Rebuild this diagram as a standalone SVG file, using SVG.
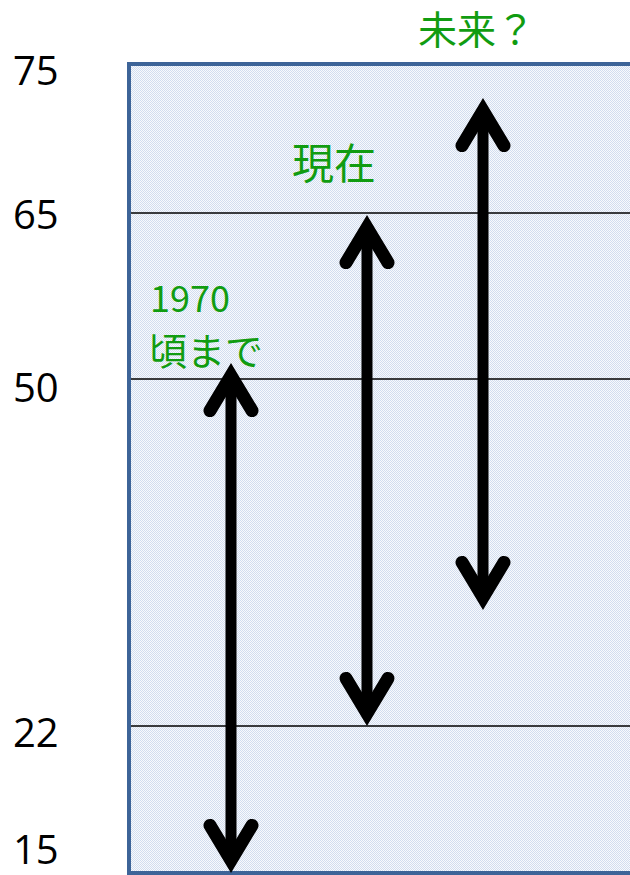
<svg xmlns="http://www.w3.org/2000/svg" width="630" height="875" viewBox="0 0 630 875">
  <style>
    .axis { font-family: "Open Sans", "Liberation Sans", sans-serif; font-size: 40px; fill: #000; }
    .lbl { font-family: "Noto Sans CJK JP", "Noto Sans", sans-serif; fill: #119c11; }
    .grid { stroke: #000; stroke-width: 1.5; }
    .arrow { stroke: #000; stroke-width: 11; fill: none; marker-start: url(#head); marker-end: url(#head); }
  </style>
  <defs>
    <pattern id="dots" width="2" height="2" patternUnits="userSpaceOnUse">
      <rect width="2" height="2" fill="#f8fafd"/>
      <rect width="1" height="1" fill="#d2ddef"/>
      <rect x="1" y="1" width="1" height="1" fill="#d2ddef"/>
    </pattern>
    <marker id="head" markerUnits="userSpaceOnUse" markerWidth="80" markerHeight="80" viewBox="-50 -40 80 80" refX="0" refY="0" orient="auto-start-reverse" overflow="visible">
      <path d="M -35.6 -21 L -0.6 0 L -35.6 21" fill="none" stroke="#000" stroke-width="13" stroke-linecap="round" stroke-linejoin="miter" stroke-miterlimit="10"/>
    </marker>
  </defs>

  <g id="chart-frame">
    <rect x="129" y="64" width="520" height="809" fill="url(#dots)" stroke="#3d6498" stroke-width="4"/>
  </g>

  <g id="gridlines">
    <line class="grid" x1="131" y1="213" x2="630" y2="213"/>
    <line class="grid" x1="131" y1="379" x2="630" y2="379"/>
    <line class="grid" x1="131" y1="726" x2="630" y2="726"/>
  </g>

  <g id="axis-labels">
    <text class="axis" x="13" y="85">75</text>
    <text class="axis" x="13" y="229">65</text>
    <text class="axis" x="13" y="402">50</text>
    <text class="axis" x="13" y="747">22</text>
    <text class="axis" x="13" y="864">15</text>
  </g>

  <g id="connectors">
    <line class="arrow" x1="231" y1="375" x2="231" y2="861"/>
    <line class="arrow" x1="367" y1="227" x2="367" y2="714"/>
    <line class="arrow" x1="483" y1="110" x2="483" y2="598"/>
  </g>

  <g id="label-1970">
    <text class="lbl" x="150" y="312" font-size="36">1970</text>
    <text class="lbl" x="149" y="365" font-size="38">頃まで</text>
  </g>
  <g id="label-now">
    <text class="lbl" x="292" y="179" font-size="42">現在</text>
  </g>
  <g id="label-future">
    <text class="lbl" x="418" y="44" font-size="39">未来？</text>
  </g>
</svg>
